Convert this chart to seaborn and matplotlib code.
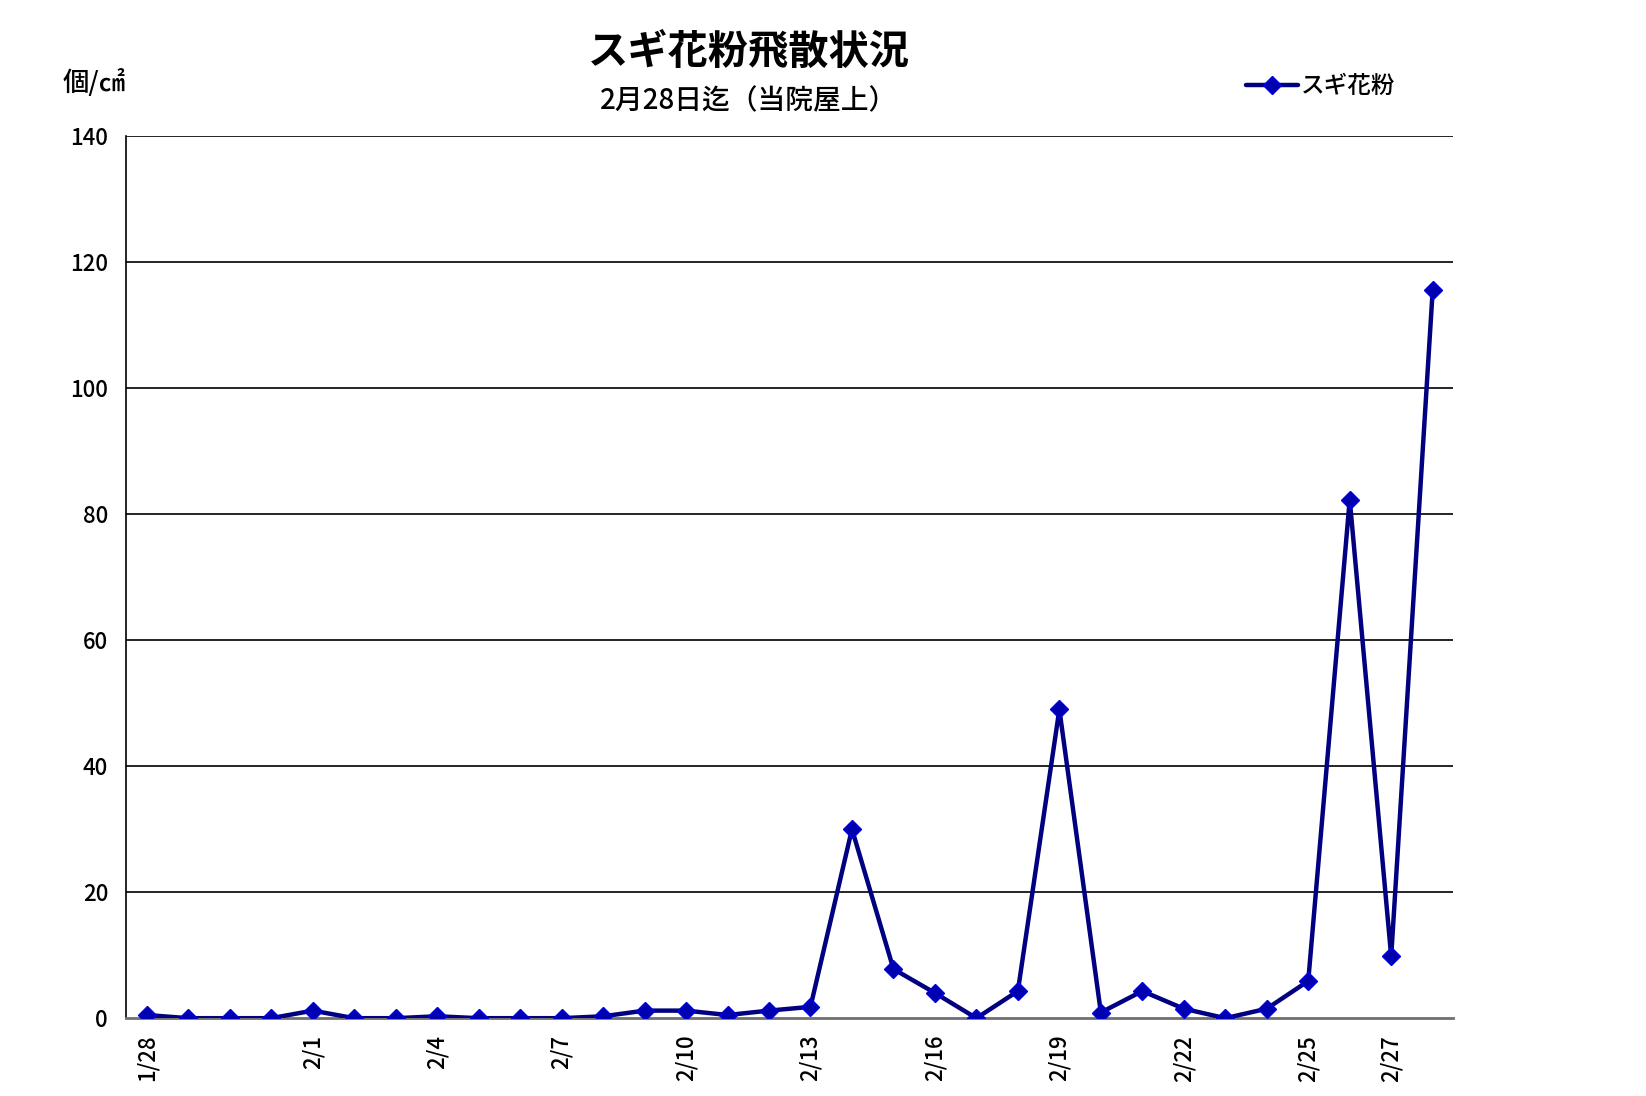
"""
スギ花粉飛散状況 (daily cedar pollen count, 1/28 - 2/28)
"""

import pandas as pd
import matplotlib.pyplot as plt
import seaborn as sns

dates = [
    "1/28", "1/29", "1/30", "1/31",
    "2/1", "2/2", "2/3", "2/4", "2/5", "2/6", "2/7", "2/8", "2/9", "2/10",
    "2/11", "2/12", "2/13", "2/14", "2/15", "2/16", "2/17", "2/18", "2/19",
    "2/20", "2/21", "2/22", "2/23", "2/24", "2/25", "2/26", "2/27", "2/28",
]
pollen = [
    0.5, 0.0, 0.0, 0.0,
    1.2, 0.0, 0.0, 0.3, 0.0, 0.0, 0.0, 0.3, 1.2, 1.2,
    0.5, 1.2, 1.8, 30.0, 7.8, 4.0, 0.0, 4.3, 49.0,
    0.9, 4.3, 1.5, 0.0, 1.5, 5.9, 82.3, 9.8, 115.5,
]
tick_labels = ["1/28", "2/1", "2/4", "2/7", "2/10", "2/13", "2/16",
               "2/19", "2/22", "2/25", "2/27"]
y_ticks = [0, 20, 40, 60, 80, 100, 120, 140]

df = pd.DataFrame({"day": range(len(dates)), "date": dates, "pollen": pollen})

sns.set_theme(style="white")
plt.rcParams["font.family"] = ["Noto Sans CJK JP", "DejaVu Sans"]
plt.rcParams["text.color"] = "black"

fig = plt.figure(figsize=(16.46, 10.96), dpi=100)
ax = fig.add_axes([0.0766, 0.071, 0.8064, 0.805])

sns.lineplot(data=df, x="day", y="pollen", ax=ax, color="#000080",
             linewidth=3.2, marker="D", markersize=9,
             markerfacecolor="#0000B0", markeredgecolor="#0000E0",
             markeredgewidth=1, label="スギ花粉", zorder=3)

ax.set_xlim(-0.5, len(dates) - 0.5)
ax.set_ylim(0, 140)
ax.set_yticks(y_ticks)
ax.set_yticklabels([str(v) for v in y_ticks], fontsize=16, color="black",
                   fontweight="medium")
ax.set_xticks([dates.index(d) for d in tick_labels])
ax.set_xticklabels(tick_labels, rotation=90, fontsize=16, color="black",
                   fontweight="medium")
ax.tick_params(axis="y", length=0, pad=13)
ax.tick_params(axis="x", length=0, pad=12)
ax.set_xlabel("")
ax.set_ylabel("")

for v in y_ticks[1:]:
    ax.axhline(v, color="black", linewidth=1.2, zorder=1)

ax.spines["top"].set_visible(False)
ax.spines["right"].set_visible(False)
ax.spines["left"].set_color("black")
ax.spines["left"].set_linewidth(1.2)
ax.spines["bottom"].set_color("#707070")
ax.spines["bottom"].set_linewidth(2)

fig.text(0.455, 0.952, "スギ花粉飛散状況", ha="center", va="center",
         fontsize=29, fontweight="bold")
fig.text(0.455, 0.908, "2月28日迄（当院屋上）", ha="center", va="center",
         fontsize=20, fontweight="medium")
fig.text(0.038, 0.924, "個/㎠", ha="left", va="center", fontsize=19,
         fontweight="medium")

leg = ax.legend(loc="center", bbox_to_anchor=(0.9, 1.056), frameon=False,
                fontsize=17, handlelength=2.2, handletextpad=0.15)
for t in leg.get_texts():
    t.set_fontweight("medium")

plt.savefig("out.png", dpi=100)
plt.close()
